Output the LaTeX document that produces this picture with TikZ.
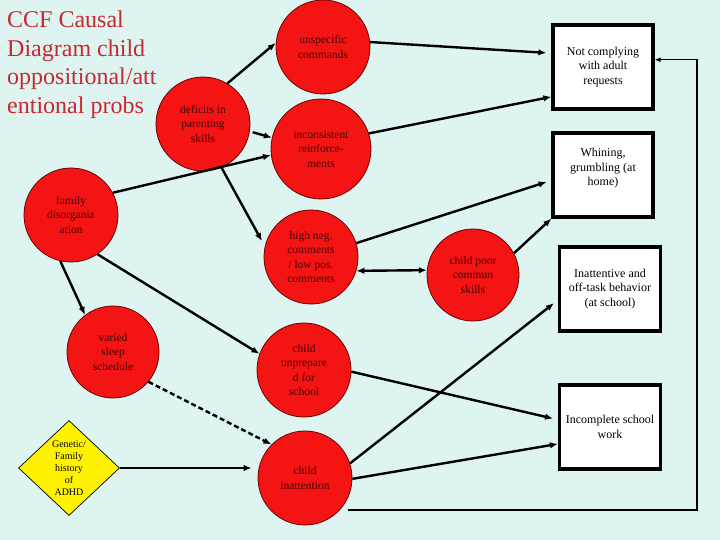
\documentclass[tikz,border=0pt]{standalone}
\usepackage{fontspec}
\setmainfont{Liberation Serif}
\usetikzlibrary{shapes.geometric,arrows.meta}
\definecolor{bgc}{RGB}{221,244,240}
\definecolor{circfill}{RGB}{245,20,20}
\definecolor{circline}{RGB}{110,0,0}
\definecolor{circtext}{RGB}{70,0,0}
\definecolor{titlec}{RGB}{200,40,50}
\begin{document}
\begin{tikzpicture}[x=1pt,y=-1pt,
  cause/.style={circle,draw=circline,line width=0.8pt,fill=circfill,minimum size=94pt,inner sep=0pt,align=center,text=circtext,font=\fontsize{11.5}{14.5}\selectfont},
  outcome/.style={rectangle,draw=black,line width=3.2pt,fill=white,minimum width=100pt,minimum height=84pt,inner sep=0pt,align=center,font=\fontsize{12}{14.5}\selectfont},
  link/.style={line width=2.4pt,-{Latex[length=8pt,width=6.5pt]}},
  dlink/.style={line width=2.4pt,{Latex[length=8pt,width=6.5pt]}-{Latex[length=8pt,width=6.5pt]}},
  dashlink/.style={line width=2.4pt,dash pattern=on 5pt off 3pt,-{Latex[length=8pt,width=6.5pt]}},
  fbline/.style={line width=1.2pt,-{Latex[length=6pt,width=5pt]}}
]
\useasboundingbox (0,0) rectangle (720,540);
\fill[bgc] (0,0) rectangle (720,540);

\node[anchor=north west,align=left,inner sep=0pt,text=titlec,font=\fontsize{24}{28.5}\selectfont] (title) at (7,11)
  {CCF Causal\\Diagram child\\oppositional/att\\entional probs};

% causes
\node[cause] (def) at (203,124) {deficits in\\parenting\\skills};
\node[cause] (uns) at (323,47) {unspecific\\commands};
\node[cause,minimum width=100pt] (inc) at (321,149) {inconsistent\\reinforce-\\ments};
\node[cause] (fam) at (71,215) {family\\disorganiz\\ation};
\node[cause] (high) at (311,257) {high neg.\\comments\\/ low pos.\\comments};
\node[cause,minimum size=92pt] (poor) at (473,275) {child poor\\commun\\skills};
\node[cause,minimum size=92pt] (sleep) at (113,352) {varied\\sleep\\schedule};
\node[cause] (unp) at (304,370) {child\\unprepare\\d for\\school};
\node[cause] (inat) at (305,478) {child\\inattention};
\node[diamond,draw=black,line width=0.7pt,fill=yellow,minimum width=101pt,minimum height=95pt,inner sep=0pt,align=center,font=\fontsize{10}{12}\selectfont] (gen) at (69,468) {Genetic/\\Family\\history\\of\\ADHD};

% outcomes
\node[outcome] (notc) at (603,67) {Not complying\\with adult\\requests};
\node[outcome] (whin) at (603,175) {Whining,\\grumbling (at\\home)\\[1pt]};
\node[outcome,minimum width=101pt] (inattb) at (610,289) {Inattentive and\\off-task behavior\\(at school)};
\node[outcome,minimum width=101pt] (incs) at (610,427) {Incomplete school\\work};

% connectors
\draw[link] (def.59) -- (uns.175);
\draw[link,shorten <=3pt] (def.-9) -- (inc.167);
\draw[link] (fam.28) -- (inc.187);
\draw[link,shorten >=6pt] (def.-67) -- (high.167);
\draw[link,shorten >=5pt] (uns.6) -- (notc.165);
\draw[link] (inc.18) -- (notc.210);
\draw[link,shorten >=5pt] (high.17) -- (whin.186);
\draw[dlink] (high.-17) -- (poor.174);
\draw[link] (poor.28) -- (whin.south west);
\draw[link] (fam.-103) -- (sleep.127);
\draw[link] (fam.-56) -- (unp.160);
\draw[dashlink] (sleep.-40) -- (inat.135);
\draw[link,shorten >=6pt] (gen.east) -- (gen.east -| inat.west);
\draw[link,shorten >=5pt] (unp.-2) -- (incs.172);
\draw[link,shorten >=5pt] (inat.18) -- (inattb.192);
\draw[link] (inat.-1) -- (incs.198);

\coordinate (fb0) at (348,510);
\coordinate (fb1) at (697,510);
\draw[fbline] (fb0) -- (fb1) |- (notc.8);
\end{tikzpicture}
\end{document}
